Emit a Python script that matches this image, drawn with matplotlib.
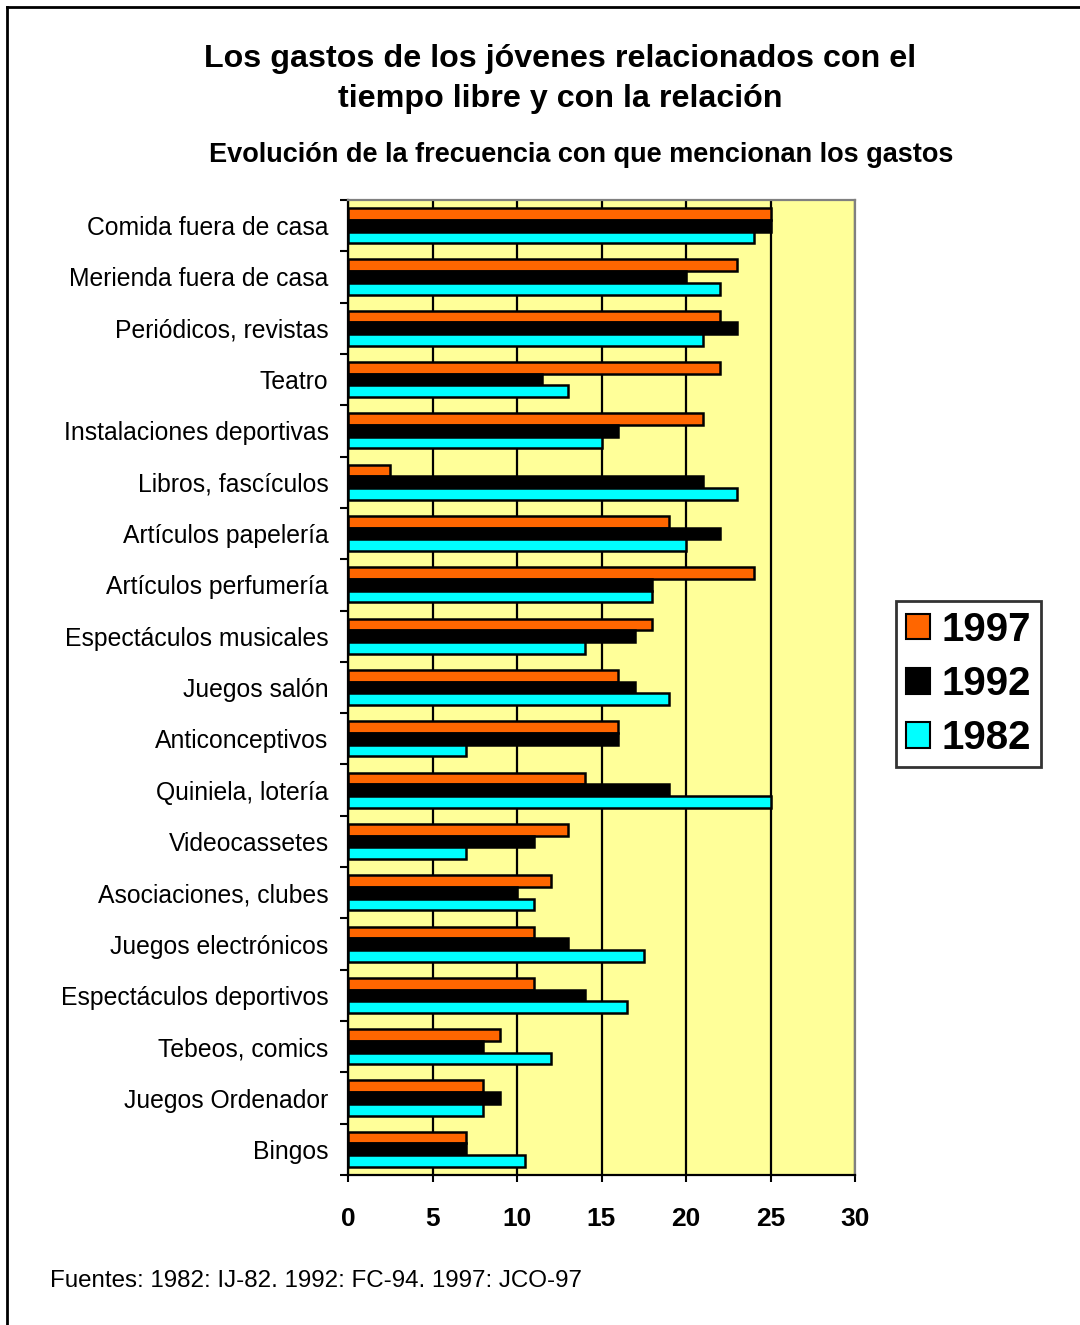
import matplotlib.pyplot as plt
import numpy as np
from matplotlib.lines import Line2D
from matplotlib.patches import Patch

plt.rcParams["font.family"] = ["Liberation Sans", "DejaVu Sans"]

categories = [
    "Comida fuera de casa", "Merienda fuera de casa", "Periódicos, revistas",
    "Teatro", "Instalaciones deportivas", "Libros, fascículos",
    "Artículos papelería", "Artículos perfumería", "Espectáculos musicales",
    "Juegos salón", "Anticonceptivos", "Quiniela, lotería", "Videocassetes",
    "Asociaciones, clubes", "Juegos electrónicos", "Espectáculos deportivos",
    "Tebeos, comics", "Juegos Ordenador", "Bingos",
]
v1997 = [25, 23, 22, 22, 21, 2.5, 19, 24, 18, 16, 16, 14, 13, 12, 11, 11, 9, 8, 7]
v1992 = [25, 20, 23, 11.5, 16, 21, 22, 18, 17, 17, 16, 19, 11, 10, 13, 14, 8, 9, 7]
v1982 = [24, 22, 21, 13, 15, 23, 20, 18, 14, 19, 7, 25, 7, 11, 17.5, 16.5, 12, 8, 10.5]
years = ["1997", "1992", "1982"]
xticks = [0, 5, 10, 15, 20, 25, 30]

ORANGE = "#FF6600"
CYAN = "#00FFFF"
PLOT_BG = "#FFFF99"

fig = plt.figure(figsize=(10.8, 13.25), dpi=100)
ax = fig.add_axes([348 / 1080, 1 - 1175 / 1325, 507 / 1080, 975 / 1325])
ax.set_facecolor(PLOT_BG)

y = np.arange(len(categories))
h = 0.228
series = [(v1997, ORANGE), (v1992, "black"), (v1982, CYAN)]
for k, (vals, fc) in enumerate(series):
    ax.barh(y + (k - 1) * h, vals, height=h, color=fc, edgecolor="black",
            linewidth=1.8, zorder=3, label=years[k])

ax.set_xlim(0, 30)
ax.set_ylim(len(categories) - 0.5, -0.5)
ax.set_xticks(xticks)
ax.set_xticklabels([str(t) for t in xticks], fontsize=19, fontweight="bold")
ax.tick_params(axis="x", direction="out", length=5, width=1.5, pad=18)
ax.xaxis.grid(True, color="black", linewidth=1.6, zorder=1)
ax.set_axisbelow(True)

# category boundaries carry the ticks; names sit at the centres
ax.set_yticks(np.arange(-0.5, len(categories), 1))
ax.set_yticklabels([])
ax.set_yticks(y, minor=True)
ax.set_yticklabels(categories, minor=True, fontsize=17.8)
ax.tick_params(axis="y", which="major", direction="out", length=6, width=1.5)
ax.tick_params(axis="y", which="minor", length=0, pad=14)

for side in ("left", "bottom"):
    ax.spines[side].set_color("black")
    ax.spines[side].set_linewidth(1.6)
for side in ("top", "right"):
    ax.spines[side].set_color("#808080")
    ax.spines[side].set_linewidth(1.6)

fig.text(560 / 1080, 1 - 59 / 1325, "Los gastos de los jóvenes relacionados con el",
         ha="center", va="center", fontsize=23.2, fontweight="bold")
fig.text(560 / 1080, 1 - 99 / 1325, "tiempo libre y con la relación",
         ha="center", va="center", fontsize=23.2, fontweight="bold")
fig.text(581 / 1080, 1 - 155 / 1325, "Evolución de la frecuencia con que mencionan los gastos",
         ha="center", va="center", fontsize=19.5, fontweight="bold")
fig.text(50 / 1080, 1 - 1281 / 1325, "Fuentes: 1982: IJ-82. 1992: FC-94. 1997: JCO-97",
         ha="left", va="center", fontsize=17.4)

handles = [Patch(facecolor=fc, edgecolor="black", linewidth=1.5) for _, fc in series]
leg = fig.legend(handles, years, loc="center",
                 bbox_to_anchor=(968.5 / 1080, 1 - 684 / 1325),
                 prop={"size": 29, "weight": "bold"}, frameon=True, fancybox=False,
                 edgecolor="black", handlelength=0.6, handleheight=0.6,
                 handletextpad=0.3, labelspacing=0.4, borderpad=0.25,
                 borderaxespad=0)
leg.get_frame().set_linewidth(2)

# page frame: left and top edges only
fig.add_artist(Line2D([7 / 1080, 7 / 1080], [0, 1 - 7 / 1325], color="black", lw=2))
fig.add_artist(Line2D([7 / 1080, 1], [1 - 7 / 1325, 1 - 7 / 1325], color="black", lw=2))

fig.savefig("out.png", dpi=100)
